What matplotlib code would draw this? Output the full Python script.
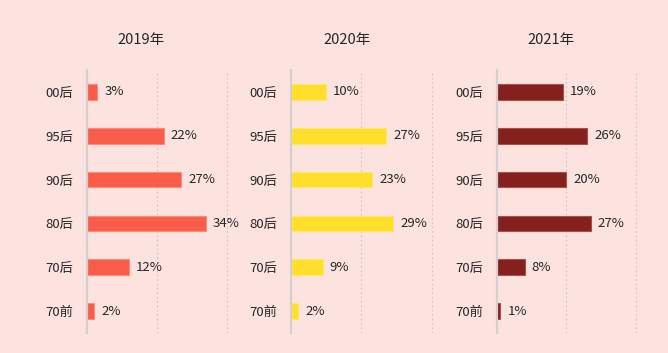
import matplotlib
matplotlib.use('Agg')
import matplotlib.pyplot as plt

plt.rcParams['font.family'] = ['Noto Sans CJK SC', 'DejaVu Sans']

categories = ["00后", "95后", "90后", "80后", "70后", "70前"]
years = ["2019年", "2020年", "2021年"]
values = {
    "2019年": [3, 22, 27, 34, 12, 2],
    "2020年": [10, 27, 23, 29, 9, 2],
    "2021年": [19, 26, 20, 27, 8, 1],
}
colors = {"2019年": "#fa5c4a", "2020年": "#ffdf2b", "2021年": "#84211c"}
edges = {"2019年": "#fb8a7c", "2020年": "#ffe866", "2021年": "#a5524c"}

BG = "#fde3e0"
TXT = "#262626"
W, H = 668, 353

fig = plt.figure(figsize=(W / 100, H / 100), dpi=100, facecolor=BG)

# panel left edges / right edges in pixels, title centres
lefts = [87, 291, 497]
rights = [228, 433, 637]
title_x = [141, 347, 551]
top_px, bot_px = 70, 333

for k, yr in enumerate(years):
    ax = fig.add_axes([lefts[k] / W, (H - bot_px) / H,
                       (rights[k] - lefts[k]) / W, (bot_px - top_px) / H])
    ax.set_facecolor("none")
    y = list(range(len(categories)))
    vals = values[yr]
    ax.barh(y, vals, height=0.36, color=colors[yr], edgecolor=edges[yr],
            linewidth=0.8, zorder=3)
    for i, v in enumerate(vals):
        ax.annotate(f"{v}%", (v, i), xytext=(7, 0), textcoords="offset pixels",
                    va="center", ha="left", fontsize=9.5, color=TXT,
                    fontweight="medium")
    ax.set_xlim(0, 40.3)
    ax.set_ylim(len(categories) - 0.5, -0.5)
    ax.set_yticks(y)
    ax.set_yticklabels(categories, fontsize=9.5, color=TXT, fontweight="medium")
    ax.tick_params(axis="y", length=0, pad=10)
    ax.set_xticks([20, 40])
    ax.tick_params(axis="x", length=0, labelbottom=False)
    ax.xaxis.grid(True, color="#cfc5c3", lw=0.9, ls=(0, (1.5, 2)), zorder=0)
    for s in ["top", "right", "bottom"]:
        ax.spines[s].set_visible(False)
    ax.spines["left"].set_color("#d5cfce")
    ax.spines["left"].set_linewidth(1.6)
    ax.spines["left"].set_zorder(4)
    fig.text(title_x[k] / W, 1 - 40 / H, yr, ha="center", va="center",
             fontsize=10.5, color=TXT, fontweight="medium")

fig.savefig("out.png", dpi=100, facecolor=BG)
